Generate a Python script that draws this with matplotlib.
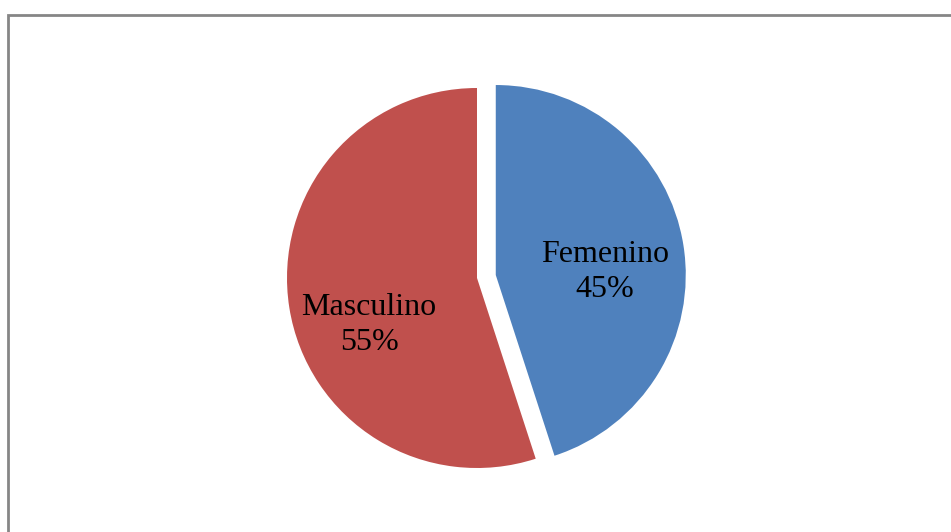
import matplotlib.pyplot as plt
from matplotlib.patches import Rectangle

# data
labels = ["Femenino", "Masculino"]
values = [45, 55]
colors = ["#4F81BD", "#C0504D"]
explode = [19, 0]  # femenino slice pulled out

W, H = 951, 532
fig = plt.figure(figsize=(W / 100, H / 100), dpi=100)
ax = fig.add_axes([0, 0, 1, 1])
ax.set_xlim(0, W)
ax.set_ylim(0, H)
ax.axis("off")

# chart frame (runs off the right and bottom edge)
ax.add_patch(Rectangle((8, -20), 1000, H - 15 + 20, fill=False,
                       edgecolor="#868686", linewidth=2))

wedges, _ = ax.pie(values, colors=colors, explode=explode, startangle=90,
                   counterclock=False, radius=190, center=(477, H - 278),
                   wedgeprops=dict(linewidth=0))
ax.set_xlim(0, W)
ax.set_ylim(0, H)
ax.set_aspect("auto")

# labels with percentages
label_pos = [(605, H - 272), (369, H - 325)]
for lab, v, (x, y) in zip(labels, values, label_pos):
    ax.text(x, y, "%s\n%d%%" % (lab, v), ha="center", va="center",
            fontsize=23, family="Liberation Serif", linespacing=1.3)

fig.savefig("out.png", dpi=100)
